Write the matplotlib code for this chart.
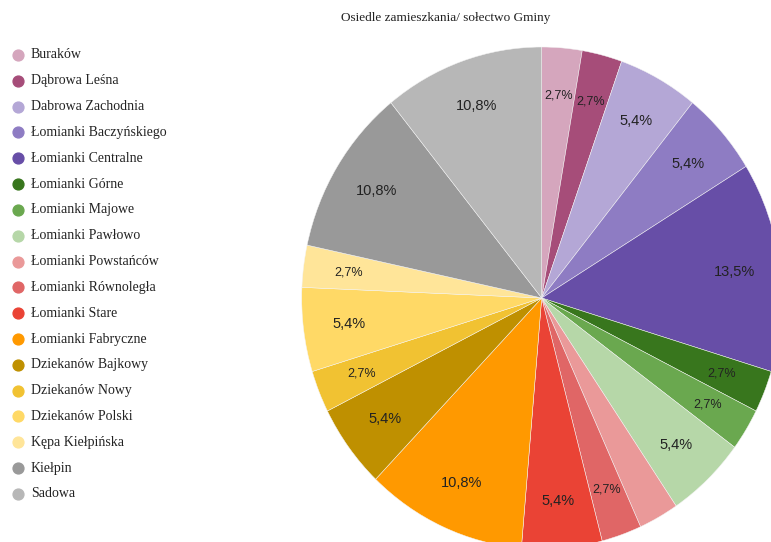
# -*- coding:utf-8 -*-
import matplotlib
matplotlib.use('Agg')
import matplotlib.pyplot as plt
from matplotlib.lines import Line2D

labels = ['Buraków', 'Dąbrowa Leśna', 'Dabrowa Zachodnia', 'Łomianki Baczyńskiego',
          'Łomianki Centralne', 'Łomianki Górne', 'Łomianki Majowe', 'Łomianki Pawłowo',
          'Łomianki Powstańców', 'Łomianki Równoległa', 'Łomianki Stare', 'Łomianki Fabryczne',
          'Dziekanów Bajkowy', 'Dziekanów Nowy', 'Dziekanów Polski', 'Kępa Kiełpińska',
          'Kiełpin', 'Sadowa']
counts = [1, 1, 2, 2, 5, 1, 1, 2, 1, 1, 2, 4, 2, 1, 2, 1, 4, 4]
colors = ['#D5A6BD', '#A64D79', '#B4A7D6', '#8E7CC3', '#674EA7', '#38761D', '#6AA84F',
          '#B6D7A8', '#EA9999', '#E06666', '#EA4335', '#FF9900', '#BF9000', '#F1C232',
          '#FFD966', '#FFE599', '#999999', '#B7B7B7']
title = 'Osiedle zamieszkania/ sołectwo Gminy'
# slices whose labels google charts left out
hidden = ['Łomianki Powstańców']

W, H = 771, 542
fig = plt.figure(figsize=(W/100, H/100), dpi=100)

# pie is a bit squashed horizontally in the source picture
cx, cy, rx, ry = 541.7, 298.0, 240.0, 251.0
ax = fig.add_axes([(cx-rx)/W, (H-cy-ry)/H, 2*rx/W, 2*ry/H])

def fmt(p):
    return ('%.1f%%' % p).replace('.', ',')

wedges, texts, autotexts = ax.pie(counts, colors=colors, startangle=90, counterclock=False,
                                  autopct=fmt, pctdistance=0.81,
                                  wedgeprops=dict(linewidth=0.35, edgecolor='#f4f4f4'),
                                  textprops=dict(family='Liberation Sans', color='#222222'))
for t, n, lab in zip(autotexts, counts, labels):
    t.set_fontsize(10.5 if n > 1 else 9)
    if lab in hidden:
        t.set_visible(False)
for w in wedges:
    w.set_clip_on(False)
ax.set_aspect('auto')
ax.set_xlim(-1, 1)
ax.set_ylim(-1, 1)
ax.axis('off')

fig.text(446/W, 1-18/H, title, ha='center', va='center', family='Liberation Serif',
         fontsize=9.5, color='#222222')

# legend drawn by hand, one row per slice
for i in range(len(labels)):
    y = 1 - (55 + i*25.82)/H
    fig.add_artist(Line2D([18/W], [y], marker='o', markersize=7.8, color=colors[i],
                          transform=fig.transFigure, linestyle='none'))
    fig.text(31/W, y, labels[i], ha='left', va='center', family='Liberation Serif',
             fontsize=10, color='#222222')

fig.savefig('out.png', dpi=100)
